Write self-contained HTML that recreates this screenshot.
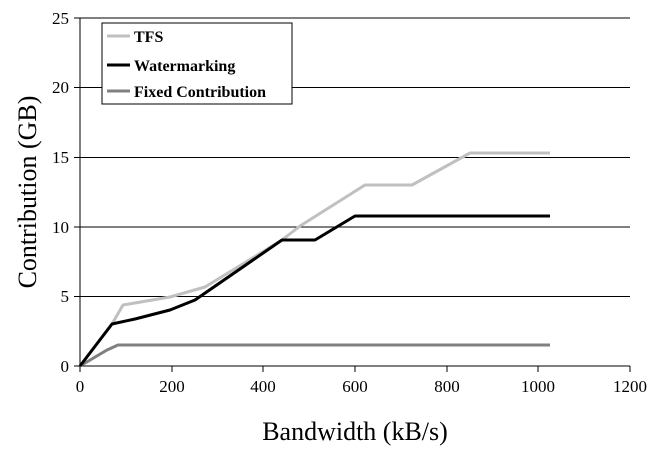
<!DOCTYPE html><html><head><style>body{margin:0;background:#fff}svg{display:block}text{font-family:"Liberation Serif",serif;fill:#000}</style></head><body>
<svg width="661" height="453" viewBox="0 0 661 453">
<g stroke="#000" stroke-width="1">
<line x1="80" y1="18" x2="630" y2="18"/><line x1="80" y1="87.5" x2="630" y2="87.5"/><line x1="80" y1="157.5" x2="630" y2="157.5"/><line x1="80" y1="227" x2="630" y2="227"/><line x1="80" y1="296.5" x2="630" y2="296.5"/>
<line x1="80" y1="366" x2="630" y2="366"/><line x1="80" y1="18" x2="80" y2="372"/>
<line x1="74" y1="18" x2="80" y2="18"/><line x1="74" y1="87.5" x2="80" y2="87.5"/><line x1="74" y1="157.5" x2="80" y2="157.5"/><line x1="74" y1="227" x2="80" y2="227"/><line x1="74" y1="296.5" x2="80" y2="296.5"/><line x1="74" y1="366" x2="80" y2="366"/>
<line x1="172" y1="366" x2="172" y2="372"/><line x1="263" y1="366" x2="263" y2="372"/><line x1="355" y1="366" x2="355" y2="372"/><line x1="447" y1="366" x2="447" y2="372"/><line x1="538" y1="366" x2="538" y2="372"/><line x1="630" y1="366" x2="630" y2="372"/>
</g>
<g font-size="17" text-anchor="end"><text x="69" y="24">25</text><text x="69" y="93">20</text><text x="69" y="163">15</text><text x="69" y="233">10</text><text x="69" y="302">5</text><text x="69" y="372">0</text></g>
<g font-size="17" text-anchor="middle"><text x="80" y="392">0</text><text x="172" y="392">200</text><text x="263" y="392">400</text><text x="355" y="392">600</text><text x="447" y="392">800</text><text x="538" y="392">1000</text><text x="630" y="392">1200</text></g>
<text x="355" y="440" font-size="26" text-anchor="middle">Bandwidth (kB/s)</text>
<text transform="translate(36,192) rotate(-90)" font-size="26" text-anchor="middle">Contribution (GB)</text>
<g fill="none" stroke-width="3" stroke-linejoin="round">
<polyline stroke="#c0c0c0" points="80,366 112,324 123,305 170,297 205,287 282,240 300,226 365,185 412,185 470,153 550,153"/>
<polyline stroke="#808080" points="80,366 107,350 118,345 550,345"/>
<polyline stroke="#000" points="80,366 112,324 135,319 170,310 195,300 282,240 315,240 355,216 550,216"/>
</g>
<rect x="102" y="23" width="190" height="81" fill="#fff" stroke="#000"/>
<g stroke-width="3"><line x1="107" y1="36" x2="130" y2="36" stroke="#c0c0c0"/><line x1="107" y1="65" x2="130" y2="65" stroke="#000"/><line x1="107" y1="91" x2="130" y2="91" stroke="#808080"/></g>
<g font-size="16" font-weight="bold"><text x="134" y="42">TFS</text><text x="134" y="71">Watermarking</text><text x="134" y="97">Fixed Contribution</text></g>
</svg></body></html>
